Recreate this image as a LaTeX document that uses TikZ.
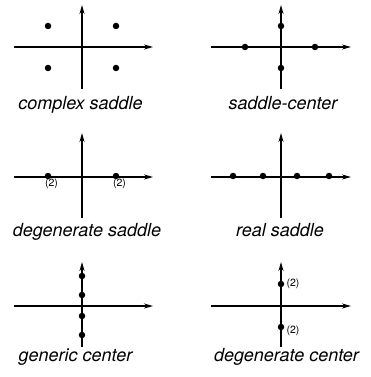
\documentclass[tikz,border=0pt]{standalone}
\usepackage{fontspec}
\setmainfont{TeX Gyre Heros}
\usetikzlibrary{arrows.meta}
\begin{document}
\begin{tikzpicture}[x=1pt,y=-1pt,
  axis/.style={line width=1.3pt,-{Stealth[length=9pt,width=5pt]}},
  pt/.style={circle,fill=black,inner sep=0pt,minimum size=6.5pt},
  lbl/.style={anchor=base,font=\fontsize{18}{20}\selectfont\itshape,inner sep=0pt},
  mult/.style={font=\fontsize{10.5}{11}\selectfont,inner sep=0pt}]
\useasboundingbox (0,0) rectangle (370,377);
% ---------- complex saddle ----------
\coordinate (h1a) at (14,47); \coordinate (h1b) at (153,47);
\coordinate (v1a) at (82,89); \coordinate (v1b) at (82,5);
\draw[axis] (h1a) -- (h1b);
\draw[axis] (v1a) -- (v1b);
\node[pt] (c1) at (48,26) {};
\node[pt] (c2) at (116,26) {};
\node[pt] (c3) at (48,68) {};
\node[pt] (c4) at (116,68) {};
\node[lbl] (l1) at (80.5,110) {complex saddle};
% ---------- saddle-center ----------
\coordinate (h2a) at (211,47); \coordinate (h2b) at (351,47);
\coordinate (v2a) at (281,89); \coordinate (v2b) at (281,5);
\draw[axis] (h2a) -- (h2b);
\draw[axis] (v2a) -- (v2b);
\node[pt] (s1) at (281,26) {};
\node[pt] (s2) at (281,68) {};
\node[pt] (s3) at (245,47) {};
\node[pt] (s4) at (315,47) {};
\node[lbl] (l2) at (283,110) {saddle-center};
% ---------- degenerate saddle ----------
\coordinate (h3a) at (14,177); \coordinate (h3b) at (153,177);
\coordinate (v3a) at (82,218); \coordinate (v3b) at (82,133);
\draw[axis] (h3a) -- (h3b);
\draw[axis] (v3a) -- (v3b);
\node[pt] (d1) at (48,176) {};
\node[pt] (d2) at (116,176) {};
\node[mult] (m1) at (51.5,183.5) {(2)};
\node[mult] (m2) at (119.5,183.5) {(2)};
\node[lbl] (l3) at (87,236) {degenerate saddle};
% ---------- real saddle ----------
\coordinate (h4a) at (211,177); \coordinate (h4b) at (351,177);
\coordinate (v4a) at (281,218); \coordinate (v4b) at (281,133);
\draw[axis] (h4a) -- (h4b);
\draw[axis] (v4a) -- (v4b);
\node[pt] (r1) at (233,176) {};
\node[pt] (r2) at (263,176) {};
\node[pt] (r3) at (297,176) {};
\node[pt] (r4) at (329,176) {};
\node[lbl] (l4) at (280,236) {real saddle};
% ---------- generic center ----------
\coordinate (h5a) at (14,306); \coordinate (h5b) at (153,306);
\coordinate (v5a) at (82,347); \coordinate (v5b) at (82,262);
\draw[axis] (h5a) -- (h5b);
\draw[axis] (v5a) -- (v5b);
\node[pt] (g1) at (82,276) {};
\node[pt] (g2) at (82,295) {};
\node[pt] (g3) at (82,316) {};
\node[pt] (g4) at (82,335) {};
\node[lbl] (l5) at (75.5,361) {generic center};
% ---------- degenerate center ----------
\coordinate (h6a) at (211,306); \coordinate (h6b) at (351,306);
\coordinate (v6a) at (281,347); \coordinate (v6b) at (281,262);
\draw[axis] (h6a) -- (h6b);
\draw[axis] (v6a) -- (v6b);
\node[pt] (e1) at (281,284) {};
\node[pt] (e2) at (281,327) {};
\node[mult] (m3) at (293,284) {(2)};
\node[mult] (m4) at (293,331) {(2)};
\node[lbl] (l6) at (286.5,361) {degenerate center};
\end{tikzpicture}
\end{document}
